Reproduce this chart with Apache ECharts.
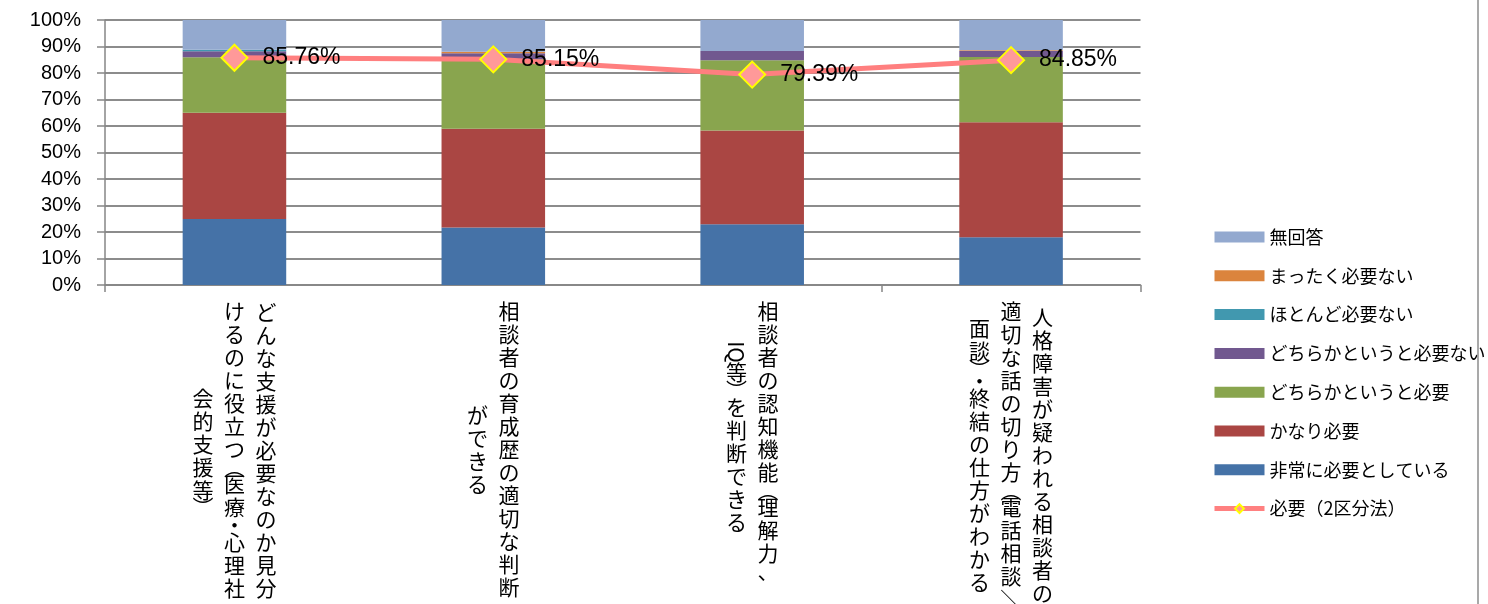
<!DOCTYPE html>
<html>
<head>
<meta charset="utf-8">
<script src="https://cdn.jsdelivr.net/npm/echarts@6/dist/echarts.min.js"></script>
<style>
  html, body { margin: 0; padding: 0; background: #fff; }
  #chart { width: 1488px; height: 604px; }
</style>
</head>
<body>
<div id="chart"></div>
<script>
// ---- data ----
const categoryColumns = [
  ['どんな支援が必要なのか見分', 'けるのに役立つ（医療・心理社', '会的支援等）'],
  ['相談者の育成歴の適切な判断', 'ができる'],
  ['相談者の認知機能（理解力、', 'IQ等）を判断できる'],
  ['人格障害が疑われる相談者の', '適切な話の切り方（電話相談／', '面談）・終結の仕方がわかる']
];
const categories = categoryColumns.map(function (c) { return c.join(''); });

const seriesNames = ['非常に必要としている', 'かなり必要', 'どちらかというと必要', 'どちらかというと必要ない', 'ほとんど必要ない', 'まったく必要ない', '無回答'];
const veryNeeded     = [24.9, 21.7, 22.9, 18.0];
const fairlyNeeded   = [40.1, 37.3, 35.4, 43.4];
const ratherNeeded   = [20.9, 26.2, 26.5, 24.6];
const ratherNot      = [2.3, 2.3, 3.5, 2.3];
const hardlyNeeded   = [0.6, 0.0, 0.0, 0.0];
const notAtAll       = [0.0, 0.5, 0.0, 0.3];
const noAnswer       = [11.2, 12.0, 11.7, 11.4];
const lineName = '必要（2区分法）';
const neededTwoWay   = [85.76, 85.15, 79.39, 84.85];
const yTicks = [0, 10, 20, 30, 40, 50, 60, 70, 80, 90, 100];

// ---- styles ----
const colors = ['#4572A7', '#AA4643', '#89A54E', '#71588F', '#4198AF', '#DB843D', '#93A9CF'];
const barValues = [veryNeeded, fairlyNeeded, ratherNeeded, ratherNot, hardlyNeeded, notAtAll, noAnswer];
const VERT = { '（': '︵', '）': '︶' };
const NARROW = { '（': 12, '）': 12, '・': 12, '、': 12, 'IQ': 18 };
const CELL_H = 23, COL_PITCH = 31.5, LABEL_MARGIN = 15;
function tokenize(s) { return s.match(/IQ|./gu); }
function cellH(t) { return NARROW[t] || CELL_H; }

const chart = echarts.init(document.getElementById('chart'), null, { renderer: 'canvas' });

const series = seriesNames.map(function (name, i) {
  return {
    name: name, type: 'bar', stack: 'total', barWidth: '40%',
    itemStyle: { color: colors[i] },
    data: barValues[i]
  };
});
series.push({
  name: lineName, type: 'line', data: neededTwoWay,
  symbol: 'diamond', symbolSize: 26,
  lineStyle: { color: '#FF7F7F', width: 5 },
  itemStyle: { color: '#FF9999', borderColor: '#FFFF00', borderWidth: 2 },
  label: {
    show: true, position: 'right', distance: 14,
    formatter: function (p) { return p.value.toFixed(2) + '%'; },
    fontFamily: 'Liberation Sans', fontSize: 23, color: '#000'
  },
  z: 5
});
series.push({
  type: 'custom', name: 'catLabels', silent: true, clip: false,
  data: categories.map(function (c, i) { return [i, 0]; }),
  encode: { x: 0, y: 1 },
  renderItem: function (params, api) {
    const idx = api.value(0);
    const base = api.coord([idx, 0]);
    const cols = categoryColumns[idx].map(tokenize);
    const heights = cols.map(function (t) { return t.reduce(function (s, ch) { return s + cellH(ch); }, 0); });
    const maxH = Math.max.apply(null, heights);
    const children = [];
    cols.forEach(function (tokens, j) {
      const cx = base[0] + (cols.length - 1) / 2 * COL_PITCH - j * COL_PITCH;
      let y = base[1] + LABEL_MARGIN + (maxH - heights[j]) / 2;
      tokens.forEach(function (tok) {
        const h = cellH(tok);
        const rotated = (tok === 'IQ' || tok === '／');
        children.push({
          type: 'text', x: cx, y: y + h / 2, rotation: rotated ? -Math.PI / 2 : 0,
          style: {
            text: VERT[tok] || tok, align: 'center', verticalAlign: 'middle',
            fontSize: 21, fontFamily: 'Noto Sans CJK JP', fill: '#000'
          }
        });
        y += h;
      });
    });
    return { type: 'group', children: children };
  }
});

const legendData = [];
for (let i = seriesNames.length - 1; i >= 0; i--) legendData.push({ name: seriesNames[i], icon: 'rect' });
legendData.push({ name: lineName, lineStyle: { width: 5, color: '#FF8080' } });

chart.setOption({
  animation: false,
  backgroundColor: '#fff',
  grid: { left: 105, right: 347.5, top: 20, bottom: 319, containLabel: false },
  legend: {
    orient: 'vertical', left: 1212, top: 227, padding: 0,
    itemWidth: 50, itemHeight: 11, itemGap: 18.8,
    textStyle: { fontFamily: 'Noto Sans CJK JP', fontSize: 18, color: '#000', lineHeight: 20 },
    data: legendData
  },
  xAxis: {
    type: 'category', data: categories,
    axisLine: { lineStyle: { color: '#868686', width: 1.5 } },
    axisTick: { show: true, length: 7, lineStyle: { color: '#868686', width: 1.5 } },
    axisLabel: { show: false }
  },
  yAxis: {
    type: 'value', min: yTicks[0], max: yTicks[yTicks.length - 1], interval: 10,
    axisLine: { show: true, lineStyle: { color: '#868686', width: 1.5 } },
    axisTick: { show: true, length: 8, lineStyle: { color: '#868686', width: 1.5 } },
    axisLabel: { formatter: '{value}%', margin: 24, fontFamily: 'Liberation Sans', fontSize: 20, color: '#000' },
    splitLine: { show: true, lineStyle: { color: '#8C8C8C', width: 2 } }
  },
  graphic: [{
    type: 'line', shape: { x1: 1478, y1: 0, x2: 1478, y2: 604 },
    style: { stroke: '#8C8C8C', lineWidth: 1.5 }, silent: true
  }],
  series: series
});
</script>
</body>
</html>
